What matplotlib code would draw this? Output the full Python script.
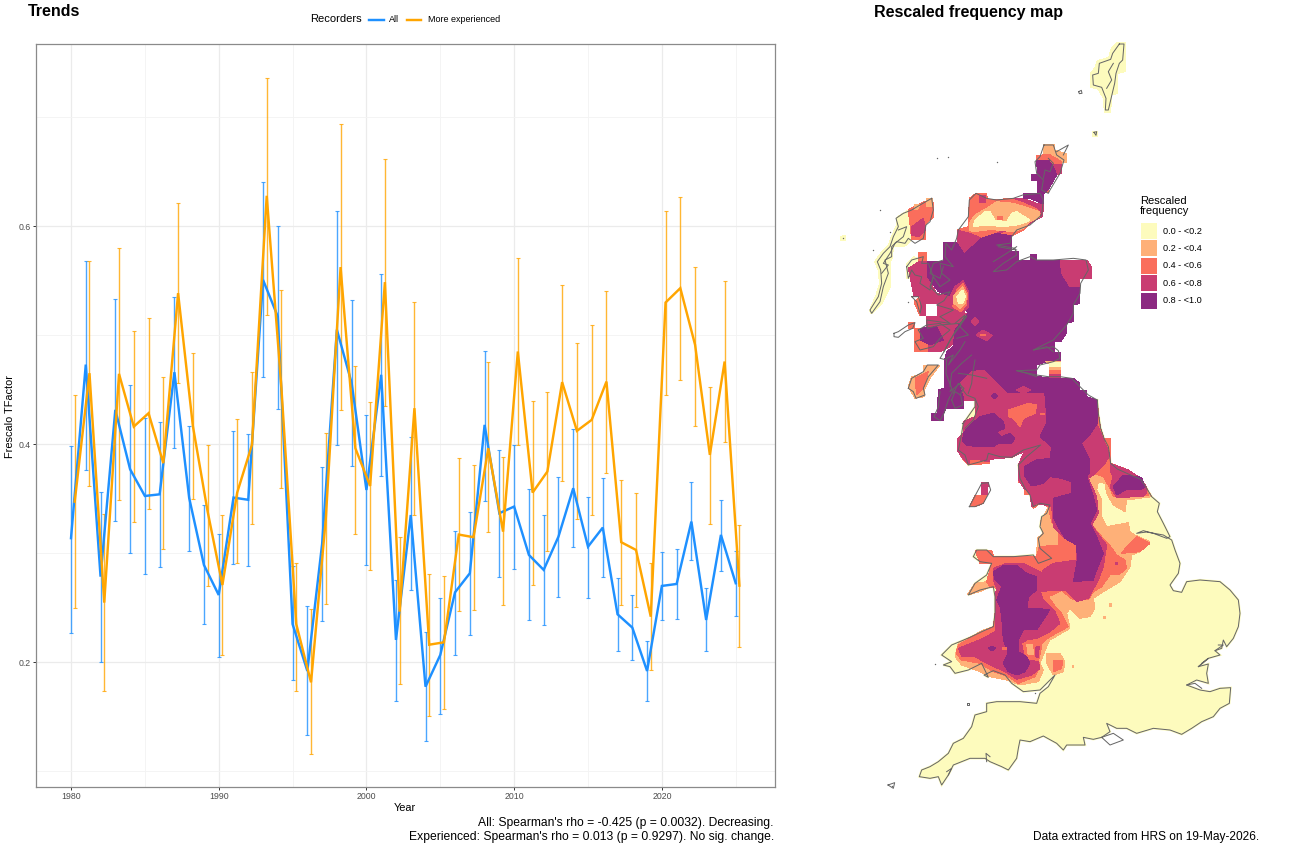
import numpy as np
import matplotlib
matplotlib.use('Agg')
import matplotlib.pyplot as plt
from matplotlib.lines import Line2D
from matplotlib.patches import Rectangle
from matplotlib.ticker import MultipleLocator

plt.rcParams['font.family'] = ['Liberation Sans', 'DejaVu Sans']

# ------------------------------------------------------------
# Trend data
# ------------------------------------------------------------
years = np.arange(1980, 2026)

all_mean = [.3138, .473, .2785, .4315, .377, .3525, .354, .466, .3507, .2892,
            .2617, .351, .349, .5507, .517, .235, .192, .3085, .505, .456,
            .358, .4636, .2205, .335, .1776, .2067, .2642, .2816, .4177, .3367,
            .3428, .2984, .2847, .3152, .3596, .306, .3235, .244, .2318, .192,
            .27, .2718, .329, .2388, .3168, .2725]
all_hi = [.398, .568, .3565, .533, .454, .424, .4207, .535, .4168, .344,
          .3177, .412, .409, .640, .6005, .2886, .252, .3789, .614, .5318,
          .427, .5565, .2755, .4064, .2275, .2587, .3205, .338, .4857, .395,
          .3996, .3587, .3349, .3703, .4137, .352, .3688, .2776, .2614, .2193,
          .3015, .3036, .3657, .2679, .3492, .3024]
all_lo = [.227, .376, .2, .330, .3006, .281, .2877, .3966, .3024, .2349,
          .205, .2905, .2886, .4617, .4324, .1838, .1333, .238, .3996, .38,
          .289, .3706, .1648, .266, .128, .1523, .207, .225, .348, .278,
          .2856, .2388, .2345, .2599, .3055, .259, .2785, .2107, .2021, .1648,
          .2388, .24, .2939, .2104, .2838, .2422]

exp_mean = [.3473, .4651, .2547, .4645, .4161, .4284, .3826, .5385, .4167, .3382,
            .2709, .3556, .3994, .6278, .4505, .235, .1816, .3318, .5624, .3963,
            .3617, .5486, .2464, .433, .2161, .2183, .3171, .3147, .3963, .3198,
            .485, .3556, .3749, .4569, .4122, .4223, .4574, .3101, .303, .2418,
            .5299, .5431, .4911, .3902, .4758, .2703]
exp_hi = [.4452, .568, .3358, .5795, .5037, .5156, .4617, .6214, .484, .399,
          .3349, .4232, .466, .7358, .5415, .2914, .2486, .4104, .6932, .4721,
          .4388, .6614, .3147, .5303, .2813, .2792, .3874, .3807, .4758, .388,
          .5706, .4394, .4477, .5462, .4929, .5095, .5406, .3672, .355, .2914,
          .6143, .6263, .5624, .4523, .5492, .3257]
exp_lo = [.2495, .3615, .1734, .3492, .3287, .3409, .3036, .456, .3495, .2703,
          .207, .2908, .3268, .5186, .3596, .1737, .1159, .2532, .4315, .3174,
          .285, .435, .1798, .3349, .1507, .1574, .2468, .248, .3198, .2523,
          .399, .2712, .3024, .366, .3312, .3354, .3734, .2523, .2505, .1932,
          .445, .459, .417, .3272, .4018, .2138]

# experienced recorders are dodged slightly so the bars do not overlap
exp_offset = 0.25
blue = '#1E90FF'
orange = '#FFA500'

# ------------------------------------------------------------
# Map classes
# ------------------------------------------------------------
class_labels = ['0.0 - <0.2', '0.2 - <0.4', '0.4 - <0.6', '0.6 - <0.8', '0.8 - <1.0']
class_colours = ['#FDFBBD', '#FEB078', '#FA6E5C', '#C93C72', '#8C2981']
coast_colour = '#666666'

# Map traces live on two sheets, in thirds of a pixel from each sheet origin.
NORTH_ORIGIN = (840, 30)
SOUTH_ORIGIN = (880, 400)

# (class, outline) painted in order, so later shapes sit on earlier ones
north_fills = [
    # Shetland and Fair Isle
    (0, [(832, 38), (856, 38), (856, 125), (834, 130), (834, 190), (815, 195), (812, 248), (793, 248),
         (790, 205), (775, 178), (752, 172), (752, 130), (765, 112), (772, 92), (806, 82), (815, 52)]),
    (0, [(757, 303), (773, 303), (773, 320), (757, 320)]),
    (0, [(0, 620), (18, 615), (18, 632), (0, 632)]),
    # Orkney
    (1, [(610, 342), (645, 342), (645, 360), (680, 372), (680, 398), (660, 398), (625, 378), (610, 378)]),
    (2, [(590, 378), (625, 372), (665, 395), (665, 420), (640, 410), (590, 398)]),
    (3, [(640, 403), (665, 403), (665, 430), (645, 437)]),
    (2, [(612, 476), (627, 476), (627, 490), (612, 490)]),
    (4, [(590, 390), (625, 390), (640, 410), (650, 435), (625, 478), (612, 490), (592, 490), (592, 452),
         (573, 452), (573, 432), (592, 432)]),
    # Outer Hebrides
    (0, [(170, 562), (205, 540), (215, 630), (195, 648), (160, 650), (158, 680), (150, 700), (152, 770),
         (125, 822), (95, 852), (88, 842), (108, 795), (118, 765), (116, 725), (104, 695), (125, 665),
         (145, 645), (155, 618), (168, 590)]),
    (2, [(205, 540), (230, 525), (278, 505), (282, 560), (258, 580), (258, 630), (215, 630)]),
    (1, [(222, 525), (240, 522), (232, 540), (222, 540)]),
    (1, [(258, 505), (278, 505), (278, 530), (260, 530)]),
    (3, [(215, 590), (250, 565), (258, 600), (235, 620), (215, 615)]),
    # Skye fringe and small isles
    (0, [(200, 700), (222, 680), (240, 690), (225, 745), (200, 745)]),
    (2, [(235, 668), (260, 668), (260, 700), (235, 710)]),
    (2, [(240, 800), (258, 800), (258, 858), (240, 858), (222, 815)]),
    (2, [(205, 878), (225, 878), (222, 895), (205, 895)]),
    # Sutherland and Caithness bands
    (2, [(388, 505), (408, 490), (438, 490), (445, 510), (520, 505), (555, 515), (590, 530), (610, 540),
         (606, 560), (570, 580), (550, 600), (515, 618), (470, 610), (425, 625), (372, 672), (352, 640),
         (352, 600), (385, 590)]),
    (3, [(352, 600), (395, 612), (425, 625), (372, 672), (352, 640)]),
    (3, [(470, 610), (515, 600), (570, 580), (606, 560), (610, 540), (590, 530), (606, 552), (560, 572), (515, 590)]),
    (3, [(520, 505), (550, 505), (590, 520), (610, 522), (610, 545), (585, 530), (550, 515)]),
    (3, [(418, 495), (438, 495), (438, 518), (418, 518)]),
    (1, [(388, 580), (405, 555), (440, 535), (470, 515), (520, 520), (570, 535), (600, 545), (600, 560),
         (570, 575), (550, 595), (520, 605), (470, 600), (440, 600), (400, 605), (388, 600)]),
    (0, [(400, 590), (405, 570), (435, 545), (450, 545), (465, 570), (500, 575), (515, 550), (530, 545),
         (570, 570), (555, 578), (530, 585), (490, 590), (440, 585)]),
    (2, [(470, 558), (490, 558), (490, 570), (470, 570)]),
    (4, [(550, 490), (610, 490), (610, 522), (570, 505), (550, 505)]),
    # West Highland pink fringe
    (3, [(205, 715), (240, 693), (260, 693), (260, 740), (290, 790), (330, 800), (345, 850), (385, 850),
         (370, 900), (330, 950), (300, 965), (222, 965), (222, 895), (260, 895), (258, 858), (292, 858),
         (292, 822), (258, 822), (258, 858), (240, 858), (240, 800), (222, 800)]),
    (2, [(222, 895), (250, 895), (262, 925), (262, 965), (222, 965)]),
    # Mid Argyll, Jura and Islay
    (1, [(205, 1070), (215, 1040), (250, 1030), (250, 1005), (300, 1005), (270, 1045), (255, 1075),
         (255, 1100), (225, 1105)]),
    (2, [(225, 1045), (265, 1025), (250, 1075), (230, 1095)]),
    # Highland core
    (4, [(310, 638), (350, 638), (372, 672), (425, 625), (470, 610), (515, 618), (515, 665), (535, 665),
         (535, 690), (570, 690), (570, 672), (590, 672), (590, 690), (740, 690), (755, 712), (755, 745),
         (720, 745), (720, 820), (700, 825), (700, 875), (680, 880), (680, 908), (662, 935), (645, 935),
         (645, 968), (662, 968), (662, 992), (630, 992), (590, 1005), (590, 1040), (662, 1045), (700, 1045),
         (720, 1060), (720, 1080), (740, 1080), (740, 1100), (770, 1110), (770, 1113), (418, 1113), (418, 1098),
         (372, 1098), (372, 1135), (318, 1135), (310, 1150), (310, 1172), (275, 1172), (275, 1150), (292, 1150),
         (295, 1080), (312, 1075), (312, 1000), (320, 965), (340, 950), (345, 900), (385, 850), (335, 800),
         (295, 785), (262, 740), (262, 693), (310, 693)]),
    # Mull and the Aberdeenshire corner
    (4, [(240, 895), (290, 890), (310, 930), (270, 945), (240, 930)]),
    (3, [(660, 690), (740, 690), (755, 712), (755, 745), (720, 745), (720, 770), (690, 770), (665, 730)]),
    # Loch Linnhe hollow
    (3, [(345, 770), (370, 752), (385, 785), (385, 830), (365, 855), (330, 840), (325, 810)]),
    (2, [(350, 778), (370, 760), (382, 790), (380, 825), (362, 845), (338, 830)]),
    (1, [(340, 800), (368, 770), (380, 795), (376, 820), (360, 835), (342, 820)]),
    (0, [(350, 800), (368, 780), (376, 800), (370, 818), (356, 822)]),
    # Spots on the Grampians
    (3, [(393, 875), (405, 863), (417, 875), (405, 888)]),
    (3, [(408, 915), (430, 900), (457, 917), (440, 932)]),
    (2, [(420, 912), (438, 912), (438, 917), (420, 917)]),
    # Forth bands
    (3, [(628, 992), (662, 992), (662, 1045), (628, 1045)]),
    (1, [(615, 992), (662, 992), (662, 1020), (628, 1020), (628, 1003)]),
    (0, [(628, 997), (662, 997), (662, 1010), (628, 1010)]),
    (2, [(628, 1020), (662, 1020), (662, 1032), (628, 1032)]),
    # Clyde lowlands
    (3, [(375, 1113), (372, 1098), (360, 1060), (395, 1025), (430, 1020), (470, 1060), (500, 1090), (610, 1090),
         (615, 1113)]),
    (3, [(530, 1080), (550, 1070), (572, 1080), (550, 1090)]),
    (4, [(455, 1098), (463, 1090), (472, 1098), (463, 1106)]),
]

south_fills = [
    # Peach margin running from the Cleveland coast round to Carmarthen Bay
    (1, [(285, 0), (652, 0), (655, 40), (662, 85), (672, 115), (690, 115), (692, 190), (745, 210), (780, 235),
         (800, 265), (815, 290), (740, 300), (735, 335), (700, 315), (680, 280), (675, 250), (655, 245),
         (650, 270), (665, 300), (665, 350), (680, 380), (745, 368), (750, 395), (765, 405), (810, 425),
         (780, 455), (755, 465), (750, 500), (720, 545), (670, 575), (640, 595), (645, 625), (630, 650),
         (600, 655), (570, 625), (560, 640), (570, 685), (510, 720), (500, 740), (480, 790), (490, 810),
         (475, 845), (420, 855), (380, 840), (330, 830), (300, 815), (245, 795), (225, 770), (235, 730),
         (270, 712), (310, 690), (340, 680), (345, 640), (345, 590), (350, 565), (330, 560), (300, 575),
         (262, 585), (285, 550), (320, 545), (335, 490), (300, 490), (285, 450), (335, 450), (340, 468),
         (470, 468), (472, 415), (490, 400), (480, 365), (490, 350), (505, 320), (480, 310), (460, 325),
         (450, 285), (432, 285), (432, 255), (415, 245), (415, 195), (432, 155), (395, 172), (330, 178),
         (330, 190), (265, 195), (250, 180), (232, 150), (232, 118), (250, 100), (250, 65), (285, 50)]),
    (1, [(500, 760), (540, 760), (555, 785), (550, 815), (520, 825), (500, 790)]),
    (2, [(520, 780), (548, 780), (545, 805), (522, 815)]),
    (1, [(688, 608), (697, 608), (697, 620), (688, 620)]),
    (1, [(668, 648), (677, 648), (677, 656), (668, 656)]),
    (1, [(575, 795), (582, 795), (582, 803), (575, 803)]),
    # Orange band inside the margin
    (2, [(285, 0), (652, 0), (655, 40), (662, 85), (672, 115), (690, 115), (692, 190), (745, 210), (780, 235),
         (800, 265), (805, 285), (700, 290), (690, 265), (670, 230), (640, 220), (625, 235), (650, 290),
         (655, 340), (635, 375), (665, 410), (685, 430), (710, 465), (735, 480), (740, 505), (715, 525),
         (690, 525), (665, 560), (640, 575), (625, 600), (580, 600), (545, 572), (505, 590), (530, 625),
         (545, 640), (565, 680), (510, 710), (490, 725), (470, 760), (480, 800), (465, 830), (415, 850),
         (385, 830), (340, 815), (300, 790), (245, 780), (228, 760), (235, 735), (270, 715), (310, 695),
         (340, 680), (345, 640), (345, 590), (350, 565), (330, 560), (320, 545), (335, 490), (300, 490),
         (285, 450), (335, 450), (340, 468), (470, 468), (478, 440), (535, 435), (535, 395), (515, 365),
         (505, 320), (480, 310), (460, 325), (450, 285), (432, 285), (432, 255), (415, 245), (415, 195),
         (432, 155), (395, 172), (330, 178), (330, 190), (265, 195), (250, 180), (232, 150), (232, 118),
         (250, 100), (250, 65), (285, 50)]),
    (2, [(740, 440), (770, 410), (810, 430), (780, 455), (725, 460)]),
    # Pink ground of the Pennines and Solway shores
    (3, [(285, 0), (652, 0), (652, 75), (690, 165), (675, 190), (640, 225), (625, 235), (650, 290), (655, 340),
         (635, 375), (660, 410), (680, 435), (670, 500), (655, 540), (625, 595), (590, 605), (555, 570),
         (510, 572), (478, 575), (478, 535), (490, 510), (520, 490), (590, 480), (590, 435), (555, 415),
         (520, 380), (515, 320), (470, 310), (455, 320), (450, 280), (432, 265), (415, 240), (415, 195),
         (432, 155), (395, 172), (330, 178), (330, 185), (290, 180), (265, 190), (250, 178), (232, 150),
         (232, 118), (250, 100), (250, 65), (285, 50)]),
    (2, [(385, 30), (445, 10), (470, 15), (465, 40), (430, 55), (420, 80), (400, 55), (385, 50)]),
    (2, [(270, 180), (300, 180), (300, 190), (270, 190)]),
    # Cleveland Hills
    (3, [(690, 190), (745, 210), (782, 235), (800, 262), (800, 280), (790, 290), (710, 292), (690, 262),
         (700, 230), (690, 210)]),
    # Welsh uplands
    (3, [(340, 505), (380, 490), (430, 490), (470, 510), (490, 520), (480, 570), (490, 600), (525, 635),
         (540, 670), (510, 695), (470, 715), (440, 720), (430, 735), (445, 780), (475, 785), (480, 805),
         (455, 825), (410, 838), (375, 815), (320, 790), (285, 770), (245, 768), (235, 745), (260, 735),
         (310, 715), (345, 695), (345, 640), (345, 590), (350, 565), (340, 540)]),
    (2, [(428, 730), (470, 720), (485, 740), (478, 775), (450, 778), (435, 760)]),
    (1, [(440, 735), (458, 732), (460, 762), (445, 765)]),
    (3, [(465, 742), (478, 738), (475, 772), (466, 770)]),
    # Isle of Man
    (2, [(270, 318), (285, 285), (320, 285), (310, 310), (285, 320)]),
    (3, [(303, 285), (305, 248), (325, 248), (322, 285)]),
    # Purple cores
    (4, [(652, 0), (652, 70), (632, 100), (605, 130), (630, 180), (630, 215), (620, 230), (640, 290), (650, 330),
         (630, 370), (650, 410), (670, 460), (650, 510), (640, 540), (580, 545), (592, 480), (590, 435),
         (555, 415), (540, 390), (520, 350), (520, 295), (575, 280), (575, 245), (545, 235), (510, 230),
         (490, 250), (455, 258), (432, 225), (432, 200), (470, 180), (510, 175), (515, 140), (480, 110),
         (500, 70), (497, 0)]),
    (2, [(480, 40), (495, 40), (495, 45), (480, 45)]),
    (4, [(250, 100), (270, 75), (300, 50), (340, 40), (370, 65), (375, 85), (350, 95), (365, 110), (390, 100),
         (405, 115), (395, 130), (355, 130), (340, 140), (290, 140), (260, 135), (248, 125)]),
    (4, [(700, 260), (730, 225), (785, 232), (795, 262), (780, 270), (740, 268), (710, 285)]),
    (4, [(340, 515), (370, 497), (410, 497), (440, 520), (470, 530), (470, 570), (445, 590), (442, 625),
         (510, 628), (490, 660), (470, 690), (430, 690), (415, 720), (415, 755), (440, 770), (450, 790),
         (435, 815), (410, 825), (385, 815), (370, 790), (385, 760), (370, 720), (365, 650), (360, 620),
         (350, 600), (365, 560), (345, 540)]),
    (4, [(325, 745), (336, 738), (347, 745), (336, 752)]),
    (2, [(365, 742), (380, 742), (380, 750), (365, 750)]),
    (3, [(704, 485), (714, 485), (714, 495), (704, 495)]),
]

# Mainland coast from the Scottish border, round the south, up to Galloway
south_coast = [
    (652, 0), (655, 40), (662, 85), (672, 115), (685, 140), (692, 190), (712, 207), (745, 222), (782, 238),
    (800, 265), (815, 290), (838, 310), (832, 335), (850, 370), (870, 410), (860, 415), (820, 400), (790, 392),
    (770, 400), (800, 396), (850, 405), (875, 420), (885, 450), (900, 490), (895, 520), (870, 555), (880, 572),
    (905, 577), (920, 545), (960, 540), (1020, 545), (1050, 570), (1075, 600), (1080, 640), (1075, 680),
    (1060, 715), (1040, 740), (1030, 720), (1025, 745), (1005, 752), (1020, 765), (985, 775), (955, 800),
    (985, 792), (980, 820), (985, 850), (950, 840), (920, 855), (960, 870), (990, 875), (1020, 865), (1052, 863),
    (1048, 910), (1020, 925), (1000, 950), (965, 965), (935, 985), (905, 1003), (870, 990), (820, 985), (770, 1000),
    (740, 985), (710, 985), (680, 970), (690, 995), (665, 1012), (640, 1018), (610, 1012), (615, 1035), (560, 1035),
    (550, 1050), (530, 1030), (490, 1008), (450, 1025), (420, 1020), (415, 1045), (410, 1075), (385, 1110),
    (365, 1100), (330, 1085), (315, 1075), (270, 1075), (220, 1095), (205, 1125), (185, 1155), (175, 1130),
    (150, 1135), (118, 1130), (125, 1110), (150, 1100), (175, 1085), (205, 1060), (220, 1030), (250, 1015),
    (275, 980), (285, 945), (320, 935), (320, 910), (350, 905), (420, 905), (470, 910), (480, 880), (505, 860),
    (525, 825), (480, 870), (430, 875), (395, 850), (375, 825), (340, 812), (312, 825), (325, 832), (305, 790),
    (265, 810), (225, 820), (210, 800), (190, 795), (215, 785), (185, 765), (215, 735), (270, 712), (305, 695),
    (340, 680), (345, 640), (345, 590), (340, 560), (300, 570), (265, 585), (285, 550), (320, 525), (335, 490),
    (300, 485), (280, 470), (290, 450), (320, 450), (340, 470), (400, 470), (460, 465), (475, 490), (515, 475),
    (480, 445), (475, 415), (490, 400), (480, 380), (485, 350), (500, 340), (510, 315), (480, 310), (460, 320),
    (450, 285), (435, 265), (420, 235), (415, 195), (440, 170), (482, 135), (430, 150), (395, 172), (360, 170),
    (325, 160), (320, 180), (265, 195), (255, 165), (235, 150), (245, 100), (250, 70), (285, 20), (285, 0),
]

south_lines = [
    [(665, 1012), (690, 1035), (730, 1020), (700, 1000), (665, 1012)],
    [(268, 320), (305, 250), (325, 248), (332, 270), (310, 310), (285, 320), (268, 320)],
    [(1005, 752), (1030, 735), (1015, 735)],
    [(955, 800), (985, 775), (965, 790)],
    [(920, 855), (945, 850), (965, 865)],
    [(320, 1085), (318, 1060), (330, 1070)],
    [(200, 1115), (215, 1105), (205, 1125)],
    [(24, 1155), (44, 1148), (40, 1165), (24, 1155)],
    [(262, 908), (267, 908), (267, 914), (262, 914), (262, 908)],
]

north_coast = [
    (772, 1110), (745, 1095), (720, 1070), (695, 1045), (660, 1040), (625, 1040), (590, 1035), (530, 1022),
    (590, 1020), (600, 1005), (640, 995), (660, 985), (655, 962), (640, 950), (580, 960), (610, 945), (640, 930),
    (680, 885), (700, 850), (700, 825), (720, 790), (722, 760), (745, 720), (738, 690), (700, 685), (640, 690),
    (590, 690), (570, 680), (530, 695), (500, 720), (460, 725), (490, 700), (530, 675), (525, 655), (470, 645),
    (510, 640), (515, 620), (530, 600), (570, 585), (605, 555), (610, 510), (600, 490), (548, 495), (520, 505),
    (470, 510), (440, 505), (408, 490), (388, 510), (385, 560), (370, 580), (355, 600), (350, 625), (335, 660),
    (318, 640), (315, 680), (340, 710), (300, 700), (305, 730), (330, 750), (300, 770), (280, 740), (270, 770),
    (295, 795), (330, 785), (312, 812), (290, 825), (340, 840), (300, 860), (330, 880), (260, 870), (262, 895),
    (300, 885), (360, 880), (380, 858), (345, 905), (312, 965), (300, 985), (320, 990), (318, 1030), (335, 1075),
    (330, 1085), (360, 1060), (365, 1075), (380, 1095), (405, 1105), (415, 1130), (400, 1170), (375, 1195),
]

# Islands, sea lochs and the long inland lochs
north_lines = [
    [(838, 42), (852, 42), (848, 90), (838, 100), (828, 130), (824, 160), (818, 185), (805, 240), (796, 240),
     (798, 205), (785, 172), (760, 165), (758, 135), (775, 130), (778, 100), (812, 88), (818, 70), (838, 42)],
    [(820, 100), (805, 125), (815, 150), (800, 175)],
    [(716, 185), (724, 181), (726, 190), (718, 191), (716, 185)],
    [(762, 307), (770, 305), (768, 316), (762, 307)],
    [(612, 345), (640, 345), (650, 375), (672, 390), (660, 430), (630, 480), (625, 490), (605, 480), (610, 450),
     (590, 430), (585, 395), (600, 380), (612, 345)],
    [(625, 385), (640, 400), (630, 425), (615, 420), (610, 445)],
    [(650, 365), (685, 345), (670, 375)],
    [(275, 505), (280, 540), (270, 575), (258, 585), (250, 625), (225, 640), (205, 625), (195, 640), (170, 635),
     (155, 650), (155, 680), (135, 690), (145, 730), (130, 770), (120, 815), (95, 850), (90, 840), (115, 800),
     (125, 760), (122, 720), (112, 695), (130, 670), (150, 650), (160, 620), (175, 590), (168, 565), (190, 550),
     (215, 540), (240, 525), (275, 505)],
    [(175, 600), (200, 590), (190, 620), (165, 640), (150, 670), (130, 700), (145, 705), (125, 730)],
    [(200, 710), (215, 690), (250, 680), (245, 700), (265, 700), (280, 740), (270, 780), (240, 760), (245, 740),
     (225, 735), (215, 720), (205, 745), (200, 710)],
    [(215, 800), (235, 800), (245, 830), (240, 850), (230, 815), (215, 800)],
    [(162, 910), (175, 905), (205, 885), (225, 878), (218, 895), (195, 905), (175, 922), (162, 920), (162, 910)],
    [(235, 900), (260, 885), (300, 880), (330, 900), (300, 925), (280, 950), (240, 960), (225, 935), (250, 925),
     (235, 900)],
    [(205, 1075), (215, 1045), (250, 1025), (262, 1005), (295, 1005), (265, 1040), (250, 1075), (255, 1095),
     (228, 1105), (220, 1085), (205, 1075)],
    [(300, 1085), (295, 1130), (282, 1160), (300, 1172), (312, 1150), (325, 1110), (340, 1080)],
    [(335, 1110), (345, 1085), (362, 1095), (368, 1125), (345, 1135), (335, 1110)],
    # Great Glen and the Moray lochs
    [(380, 858), (355, 895), (330, 930), (312, 965)],
    [(345, 880), (375, 855), (360, 890), (385, 915), (350, 925)],
    [(460, 695), (500, 670), (530, 650)],
    [(475, 650), (500, 655), (530, 660)],
    [(310, 690), (280, 700), (270, 730), (300, 745), (310, 710)],
    # Trossachs and Clyde sea lochs
    [(395, 975), (365, 1000), (335, 1030), (330, 1070)],
    [(405, 990), (398, 1030), (395, 1060), (385, 1090)],
    [(355, 1030), (395, 1035), (440, 1045)],
    [(320, 985), (340, 975), (325, 1005), (360, 960), (375, 935)],
    [(530, 1022), (560, 1030), (590, 1040)],
    [(340, 1090), (355, 1060), (372, 1075), (360, 1095)],
    [(580, 960), (620, 950), (640, 965)],
]

north_specks = [(290, 385), (325, 382), (472, 397), (120, 541), (10, 625), (100, 660), (205, 817), (150, 605)]
south_specks = [(465, 880), (165, 792), (245, 70), (35, 1158)]


def sheet_xy(points, origin):
    pts = np.asarray(points, dtype=float)
    return origin[0] + pts[:, 0] / 3, origin[1] + pts[:, 1] / 3


# ------------------------------------------------------------
# Figure
# ------------------------------------------------------------
W, H = 1300, 850
fig = plt.figure(figsize=(W / 100, H / 100), dpi=100)

# --- Trends panel ---
ax = fig.add_axes([36 / W, 1 - 787 / H, (775 - 36) / W, (787 - 44) / H])
ax.errorbar(years, all_mean, yerr=[np.array(all_mean) - all_lo, np.array(all_hi) - all_mean], fmt='none',
            ecolor=blue, elinewidth=1.0, capsize=1.2, capthick=0.8, alpha=0.8, zorder=3)
ax.errorbar(years + exp_offset, exp_mean, yerr=[np.array(exp_mean) - exp_lo, np.array(exp_hi) - exp_mean], fmt='none',
            ecolor=orange, elinewidth=1.0, capsize=1.2, capthick=0.8, alpha=0.8, zorder=3)
ax.plot(years, all_mean, color=blue, lw=1.75, solid_joinstyle='miter', zorder=4)
ax.plot(years + exp_offset, exp_mean, color=orange, lw=1.75, solid_joinstyle='miter', zorder=5)

ax.set_xlim(1977.63, 2027.66)
ax.set_ylim(0.0856, 0.767)
ax.xaxis.set_major_locator(MultipleLocator(10))
ax.xaxis.set_minor_locator(MultipleLocator(5))
ax.yaxis.set_major_locator(MultipleLocator(0.2))
ax.yaxis.set_minor_locator(MultipleLocator(0.1))
ax.set_yticks([0.2, 0.4, 0.6])
ax.set_yticklabels(['0.2', '0.4', '0.6'])
ax.set_xticks([1980, 1990, 2000, 2010, 2020])
ax.grid(which='major', color='#EBEBEB', lw=0.9)
ax.grid(which='minor', color='#F3F3F3', lw=0.6)
ax.set_axisbelow(True)
ax.tick_params(which='major', labelsize=6.3, labelcolor='#4D4D4D', length=2.2, width=0.7, color='#333333', pad=1.5)
ax.tick_params(which='minor', length=0)
for spine in ax.spines.values():
    spine.set_color('#8A8A8A')
    spine.set_linewidth(0.9)

fig.text(405 / W, 1 - 808 / H, 'Year', fontsize=7.9, ha='center', va='center')
fig.text(10 / W, 1 - 416 / H, 'Frescalo TFactor', fontsize=7.9, rotation=90, ha='center', va='center')
fig.text(28 / W, 1 - 12 / H, 'Trends', fontsize=11.5, fontweight='bold', ha='left', va='center')

# legend row above the panel
fig.text(310 / W, 1 - 19.5 / H, 'Recorders', fontsize=8, ha='left', va='center')
fig.add_artist(Line2D([369 / W, 384 / W], [1 - 19.5 / H] * 2, color=blue, lw=1.75, transform=fig.transFigure))
fig.text(388.5 / W, 1 - 19.5 / H, 'All', fontsize=6.5, ha='left', va='center')
fig.add_artist(Line2D([407 / W, 421 / W], [1 - 19.5 / H] * 2, color=orange, lw=1.75, transform=fig.transFigure))
fig.text(428 / W, 1 - 19.5 / H, 'More experienced', fontsize=6.5, ha='left', va='center')

fig.text(774 / W, 1 - 823 / H, "All: Spearman's rho = -0.425 (p = 0.0032). Decreasing.", fontsize=8.75,
         ha='right', va='center')
fig.text(774 / W, 1 - 837 / H, "Experienced: Spearman's rho = 0.013 (p = 0.9297). No sig. change.", fontsize=8.75,
         ha='right', va='center')

# --- Map panel ---
ax_map = fig.add_axes([820 / W, 0, 480 / W, 1])
ax_map.set_xlim(820, 1300)
ax_map.set_ylim(850, 0)
ax_map.axis('off')

# yellow land under everything, with a little overshoot like the grid cells
x, y = sheet_xy(south_coast, SOUTH_ORIGIN)
ax_map.fill(x, y, facecolor=class_colours[0], edgecolor=class_colours[0], lw=1.6, zorder=1)

# fills stay unsmoothed so the class edges step like raster cells
for cls, pts in north_fills:
    x, y = sheet_xy(pts, NORTH_ORIGIN)
    ax_map.fill(x, y, facecolor=class_colours[cls], edgecolor='none', lw=0, antialiased=False, zorder=2)
for cls, pts in south_fills:
    x, y = sheet_xy(pts, SOUTH_ORIGIN)
    ax_map.fill(x, y, facecolor=class_colours[cls], edgecolor='none', lw=0, antialiased=False, zorder=3)

coast_lw = 0.72
for line, origin in [(south_coast, SOUTH_ORIGIN), (north_coast, NORTH_ORIGIN)]:
    x, y = sheet_xy(line, origin)
    ax_map.plot(x, y, color=coast_colour, lw=coast_lw, zorder=5)
for line in south_lines:
    x, y = sheet_xy(line, SOUTH_ORIGIN)
    ax_map.plot(x, y, color=coast_colour, lw=coast_lw, zorder=5)
for line in north_lines:
    x, y = sheet_xy(line, NORTH_ORIGIN)
    ax_map.plot(x, y, color=coast_colour, lw=coast_lw, zorder=5)
for specks, origin in [(north_specks, NORTH_ORIGIN), (south_specks, SOUTH_ORIGIN)]:
    x, y = sheet_xy(specks, origin)
    ax_map.plot(x, y, ls='none', marker='o', ms=1.0, mew=0, color=coast_colour, zorder=5)

# class key
ax_map.text(1140, 206, 'Rescaled\nfrequency', fontsize=8, ha='left', va='center', linespacing=1.12, zorder=6)
for i, (label, colour) in enumerate(zip(class_labels, class_colours)):
    top = 223 + i * 17.4
    ax_map.add_patch(Rectangle((1141, top), 16, 16, facecolor=colour, edgecolor='none', zorder=6))
    ax_map.text(1163, top + 8, label, fontsize=6.6, ha='left', va='center', zorder=6)

fig.text(874 / W, 1 - 12 / H, 'Rescaled frequency map', fontsize=11.5, fontweight='bold', ha='left', va='center')
fig.text(1259 / W, 1 - 837 / H, 'Data extracted from HRS on 19-May-2026.', fontsize=8.6, ha='right', va='center')

fig.savefig('out.png', dpi=100)
